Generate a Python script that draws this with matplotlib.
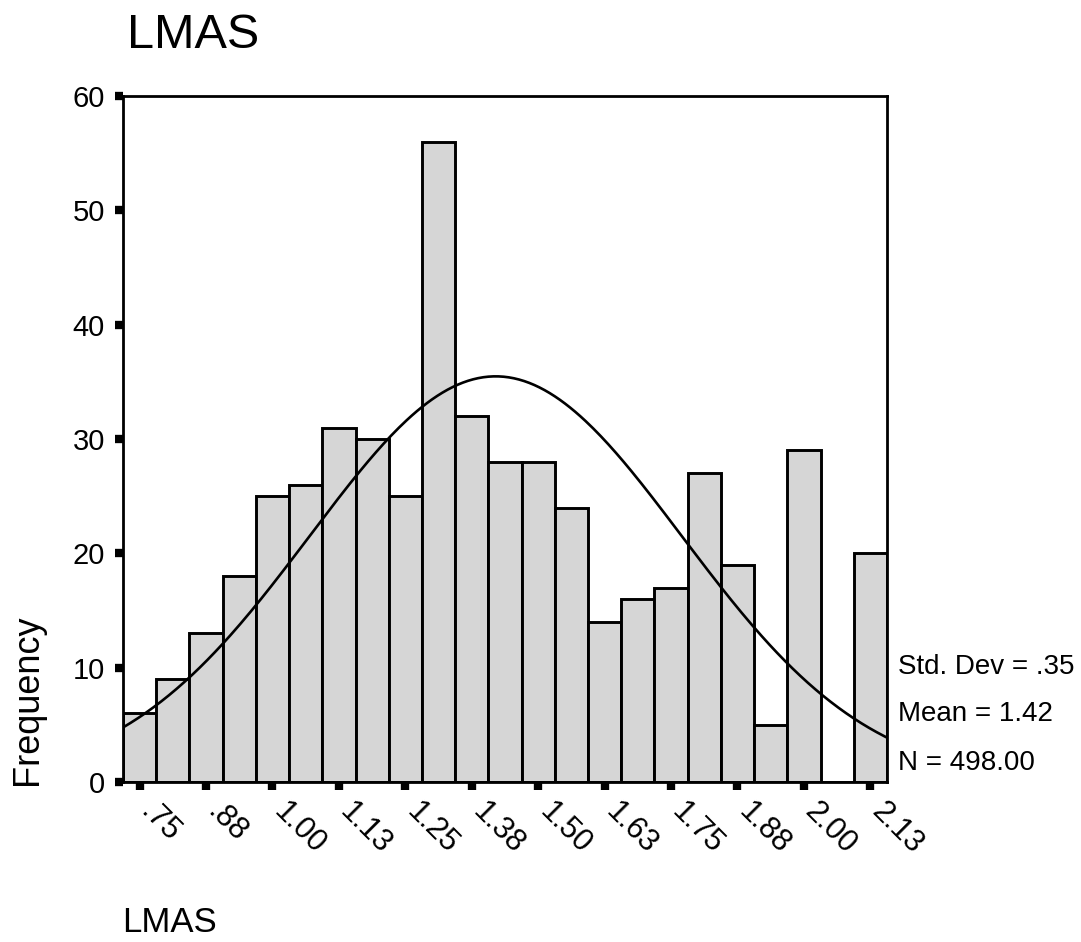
import numpy as np
import matplotlib
matplotlib.use("Agg")
import matplotlib.pyplot as plt

plt.rcParams['font.family'] = ['Liberation Sans', 'DejaVu Sans']

# histogram data (bin centres step .0625, starting .75)
bin_start = 0.75
bin_width = 0.0625
counts = [6, 9, 13, 18, 25, 26, 31, 30, 25, 56, 32, 28, 28, 24,
          14, 16, 17, 27, 19, 5, 29, 0, 20]

# summary stats printed on chart
std_dev = 0.35
mean = 1.42
n_total = 498

x_tick_vals = [0.75, 0.875, 1.0, 1.125, 1.25, 1.375, 1.5, 1.625,
               1.75, 1.875, 2.0, 2.125]
x_tick_labels = ['.75', '.88', '1.00', '1.13', '1.25', '1.38', '1.50',
                 '1.63', '1.75', '1.88', '2.00', '2.13']
y_tick_vals = [0, 10, 20, 30, 40, 50, 60]

centers = bin_start + bin_width * np.arange(len(counts))
x_lo = centers[0] - bin_width / 2
x_hi = centers[-1] + bin_width / 2

fig = plt.figure(figsize=(10.81, 9.42), dpi=100)
ax = fig.add_axes([0.1138, 0.1699, 0.7067, 0.7282])

ax.bar(centers, counts, width=bin_width, color='#d6d6d6',
       edgecolor='black', linewidth=2.1, zorder=2)

# normal curve from the printed stats
xs = np.linspace(x_lo, x_hi, 300)
ys = n_total * bin_width / (std_dev * np.sqrt(2 * np.pi)) * \
    np.exp(-0.5 * ((xs - mean) / std_dev) ** 2)
ax.plot(xs, ys, color='black', linewidth=1.9, zorder=3)

ax.set_xlim(x_lo, x_hi)
ax.set_ylim(0, 60)

for s in ax.spines.values():
    s.set_linewidth(2.0)

ax.set_yticks(y_tick_vals)
ax.set_yticklabels([str(v) for v in y_tick_vals], fontsize=21)
ax.set_xticks(x_tick_vals)
ax.set_xticklabels(x_tick_labels, fontsize=22, rotation=-45,
                   ha='left', va='baseline', rotation_mode='anchor')
ax.tick_params(axis='both', length=6, width=6, direction='out')
ax.tick_params(axis='y', pad=7)
ax.tick_params(axis='x', pad=16)

fig.text(127 / 1081, 1 - 48 / 942, 'LMAS', fontsize=35, va='baseline')
fig.text(27 / 1081, 1 - 700 / 942, 'Frequency', fontsize=26,
         rotation=90, ha='center', va='center')
fig.text(122 / 1081, 1 - 932 / 942, 'LMAS', fontsize=25, va='baseline')

stats = ['Std. Dev = %s' % ('%.2f' % std_dev).lstrip('0'),
         'Mean = %.2f' % mean,
         'N = %.2f' % n_total]
for txt, yb in zip(stats, [674, 721, 770]):
    fig.text(898 / 1081, 1 - yb / 942, txt, fontsize=20, va='baseline')

fig.savefig('out.png', dpi=100)
